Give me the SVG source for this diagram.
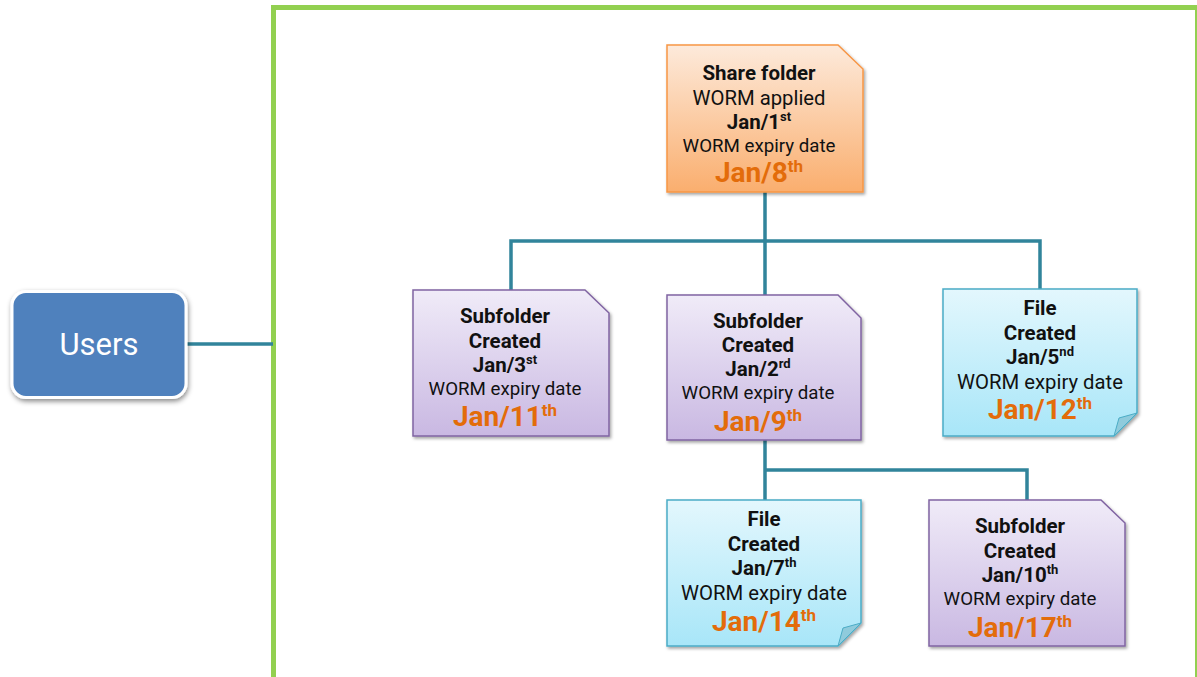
<svg xmlns="http://www.w3.org/2000/svg" width="1197" height="677" viewBox="0 0 1197 677">
<defs>
<linearGradient id="gOr" x1="0" y1="0" x2="0" y2="1"><stop offset="0" stop-color="#FDEADB"/><stop offset="1" stop-color="#FAAE6E"/></linearGradient>
<linearGradient id="gPu" x1="0" y1="0" x2="0" y2="1"><stop offset="0" stop-color="#F0EBF8"/><stop offset="1" stop-color="#C9B8E2"/></linearGradient>
<linearGradient id="gBl" x1="0" y1="0" x2="0" y2="1"><stop offset="0" stop-color="#E3F7FD"/><stop offset="1" stop-color="#A8E6F8"/></linearGradient>
<filter id="sh" x="-10%" y="-10%" width="125%" height="125%"><feDropShadow dx="1.5" dy="2" stdDeviation="1.5" flood-color="#000" flood-opacity="0.35"/></filter>
<filter id="sh2" x="-15%" y="-15%" width="130%" height="135%"><feDropShadow dx="1" dy="2.5" stdDeviation="2.5" flood-color="#000" flood-opacity="0.45"/></filter>
<style>
text{font-family:Roboto,"Liberation Sans",sans-serif;text-anchor:middle;fill:#111}
.b{font-weight:bold;font-size:20.5px}
.n{font-size:18.7px}
.nf{font-size:20.3px}
.d{font-weight:bold;font-size:28px;fill:#E36C0A}
.sup{font-size:13px}
.dsup{font-size:17px}
.or{fill:url(#gOr);stroke:#F79646;stroke-width:1.5}
.pu{fill:url(#gPu);stroke:#8064A2;stroke-width:1.5}
.bl{fill:url(#gBl);stroke:#4BACC6;stroke-width:1.5}
.fold{fill:#8FCBDC;stroke:#4BACC6;stroke-width:1}
.con{fill:none;stroke:#31849B;stroke-width:3.5}
</style>
</defs>
<rect width="1197" height="677" fill="#fff"/>
<g id="frame"><rect x="273.5" y="7.5" width="924" height="700" fill="none" stroke="#92D050" stroke-width="5"/></g>
<g id="connectors">
<path class="con" d="M187 344 H273"/>
<path class="con" d="M765 192 V241 M511 290 V241 H1040 V289 M765 241 V295"/>
<path class="con" d="M765 440 V470 H1027 V500 M765 470 V500"/>
</g>
<g id="users">
<rect x="12" y="291.5" width="174" height="106" rx="14" fill="#4F81BD" stroke="#fff" stroke-width="3" filter="url(#sh2)"/>
<text x="99" y="355" style="fill:#fff;font-size:31px">Users</text>
</g>
<g id="share">
<path class="or" filter="url(#sh)" d="M667 45 H838 L863 69 V192 H667 Z"/>
<text class="b" x="759" y="80">Share folder</text>
<text class="nf" x="759" y="105">WORM applied</text>
<text class="b" x="759" y="129">Jan/1<tspan class="sup" dy="-8">st</tspan></text>
<text class="n" x="759" y="152">WORM expiry date</text>
<text class="d" x="759" y="182">Jan/8<tspan class="dsup" dy="-10">th</tspan></text>
</g>
<g id="sub1">
<path class="pu" filter="url(#sh)" d="M413 290 H585 L609 313 V436 H413 Z"/>
<text class="b" x="505" y="323">Subfolder</text>
<text class="b" x="505" y="348">Created</text>
<text class="b" x="505" y="372">Jan/3<tspan class="sup" dy="-8">st</tspan></text>
<text class="n" x="505" y="395">WORM expiry date</text>
<text class="d" x="505" y="426">Jan/11<tspan class="dsup" dy="-10">th</tspan></text>
</g>
<g id="sub2">
<path class="pu" filter="url(#sh)" d="M667 295 H838 L861 318 V440 H667 Z"/>
<text class="b" x="758" y="328">Subfolder</text>
<text class="b" x="758" y="352">Created</text>
<text class="b" x="758" y="376">Jan/2<tspan class="sup" dy="-8">rd</tspan></text>
<text class="n" x="758" y="399">WORM expiry date</text>
<text class="d" x="758" y="431">Jan/9<tspan class="dsup" dy="-10">th</tspan></text>
</g>
<g id="file1">
<path class="bl" filter="url(#sh)" d="M943 289 H1137 V413 L1114 436 H943 Z"/>
<path class="fold" d="M1137 413 L1114 436 L1119 418 Z"/>
<text class="b" x="1040" y="315">File</text>
<text class="b" x="1040" y="340">Created</text>
<text class="b" x="1040" y="364">Jan/5<tspan class="sup" dy="-8">nd</tspan></text>
<text class="nf" x="1040" y="389">WORM expiry date</text>
<text class="d" x="1040" y="419">Jan/12<tspan class="dsup" dy="-10">th</tspan></text>
</g>
<g id="file2">
<path class="bl" filter="url(#sh)" d="M667 500 H861 V623 L838 646 H667 Z"/>
<path class="fold" d="M861 623 L838 646 L843 628 Z"/>
<text class="b" x="764" y="526">File</text>
<text class="b" x="764" y="551">Created</text>
<text class="b" x="764" y="575">Jan/7<tspan class="sup" dy="-8">th</tspan></text>
<text class="nf" x="764" y="600">WORM expiry date</text>
<text class="d" x="764" y="631">Jan/14<tspan class="dsup" dy="-10">th</tspan></text>
</g>
<g id="sub3">
<path class="pu" filter="url(#sh)" d="M929 500 H1101 L1125 523 V646 H929 Z"/>
<text class="b" x="1020" y="533">Subfolder</text>
<text class="b" x="1020" y="558">Created</text>
<text class="b" x="1020" y="582">Jan/10<tspan class="sup" dy="-8">th</tspan></text>
<text class="n" x="1020" y="605">WORM expiry date</text>
<text class="d" x="1020" y="637">Jan/17<tspan class="dsup" dy="-10">th</tspan></text>
</g>
</svg>
